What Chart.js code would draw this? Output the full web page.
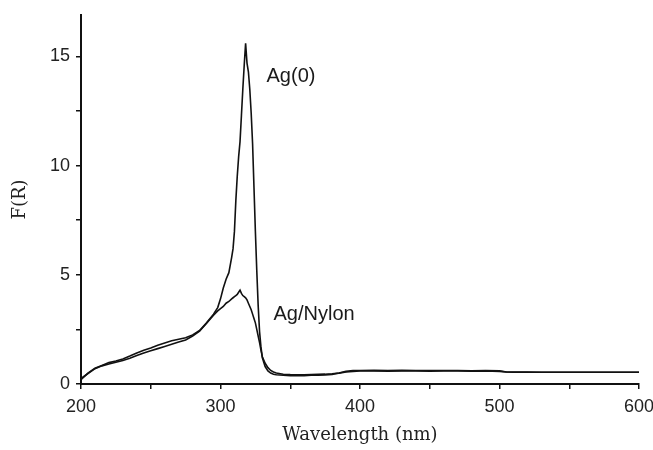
<!DOCTYPE html>
<html>
<head>
<meta charset="utf-8">
<script src="https://cdn.jsdelivr.net/npm/chart.js@4/dist/chart.umd.min.js"></script>
<style>
  html, body { margin: 0; padding: 0; background: #fff; }
  #wrap { width: 653px; height: 450px; }
</style>
</head>
<body>
<div id="wrap"><canvas id="myChart" width="653" height="450"></canvas></div>
<script>
// longitudes de onda (nm)
var wavelength = [200,205,210,215,220,225,230,235,240,245,250,255,260,265,270,275,280,285,290,295,
                  298,300,302,304,306,308,309,310,311,312,313,314,315,316,317,318,319,320,321,322,
                  323,324,325,326,327,328,329,330,332,334,336,338,340,345,350,355,360,365,370,375,
                  380,385,390,395,400,410,420,430,440,450,460,470,480,490,500,505,510,520,530,540,
                  550,560,570,580,590,600];

var ag0 = [0.2,0.5,0.72,0.85,0.98,1.05,1.15,1.28,1.42,1.55,1.65,1.78,1.88,1.98,2.05,2.12,2.25,2.45,2.8,3.2,
           3.5,3.9,4.4,4.8,5.1,5.8,6.2,7.0,8.4,9.5,10.4,11.1,12.3,13.5,14.6,15.6,14.7,14.3,13.5,12.4,
           11.0,9.0,7.0,5.2,3.6,2.4,1.7,1.2,0.8,0.6,0.5,0.45,0.42,0.4,0.38,0.38,0.38,0.4,0.4,0.42,
           0.44,0.5,0.58,0.62,0.62,0.63,0.62,0.63,0.62,0.62,0.62,0.62,0.61,0.62,0.6,0.55,0.55,0.55,0.54,0.54,
           0.54,0.54,0.54,0.54,0.54,0.54];

var agNylon = [0.25,0.48,0.7,0.83,0.92,1.0,1.08,1.18,1.3,1.42,1.52,1.62,1.72,1.82,1.92,2.02,2.2,2.42,2.78,3.15,
               3.35,3.45,3.55,3.7,3.78,3.9,3.95,4.0,4.05,4.1,4.2,4.3,4.15,4.05,4.0,3.95,3.85,3.7,3.55,3.4,
               3.2,3.0,2.8,2.5,2.2,1.9,1.55,1.25,0.95,0.75,0.62,0.55,0.5,0.45,0.43,0.42,0.42,0.43,0.44,0.45,
               0.47,0.5,0.55,0.58,0.6,0.6,0.59,0.6,0.6,0.59,0.6,0.6,0.59,0.6,0.58,0.55,0.54,0.54,0.54,0.54,
               0.54,0.54,0.54,0.54,0.54,0.54];

var xTickLabels = [200, 300, 400, 500, 600];
var yTickLabels = [0, 5, 10, 15];

// etiquetas de las curvas: [texto, x, y]
var curveLabels = [
    ['Ag(0)', 333, 14.1],
    ['Ag/Nylon', 338, 3.2]
];

function toPoints(xs, ys) {
    return xs.map(function (x, i) { return { x: x, y: ys[i] }; });
}

var labelPlugin = {
    id: 'curveLabels',
    afterDatasetsDraw: function (chart) {
        var ctx = chart.ctx;
        var sx = chart.scales.x, sy = chart.scales.y;
        ctx.save();
        ctx.font = '20px "Liberation Sans", Arial, sans-serif';
        ctx.fillStyle = '#1a1a1a';
        ctx.textBaseline = 'middle';
        ctx.textAlign = 'left';
        curveLabels.forEach(function (l) {
            ctx.fillText(l[0], sx.getPixelForValue(l[1]), sy.getPixelForValue(l[2]));
        });
        ctx.restore();
    }
};

var ctx = document.getElementById('myChart').getContext('2d');
var myChart = new Chart(ctx, {
    type: 'line',
    data: {
        datasets: [
            {
                label: 'Ag(0)',
                data: toPoints(wavelength, ag0),
                borderColor: '#111',
                borderWidth: 1.6,
                pointRadius: 0,
                fill: false
            },
            {
                label: 'Ag/Nylon',
                data: toPoints(wavelength, agNylon),
                borderColor: '#111',
                borderWidth: 1.6,
                pointRadius: 0,
                fill: false
            }
        ]
    },
    options: {
        responsive: false,
        animation: false,
        layout: { padding: { top: 15, right: 14, left: 0, bottom: 0 } },
        plugins: {
            legend: { display: false },
            tooltip: { enabled: false },
            title: { display: false }
        },
        scales: {
            x: {
                type: 'linear',
                min: 200,
                max: 600,
                afterFit: function (scale) {
                    scale.height = 66;
                    scale.paddingLeft = 0;
                    scale.paddingRight = 0;
                },
                ticks: {
                    stepSize: 50,
                    autoSkip: false,
                    maxRotation: 0,
                    padding: 7,
                    color: '#222',
                    font: { family: '"Liberation Sans", Arial, sans-serif', size: 18 },
                    callback: function (v) { return xTickLabels.indexOf(v) >= 0 ? String(v) : ''; }
                },
                grid: { drawOnChartArea: false, drawTicks: true, tickLength: 5, color: '#111', lineWidth: 1.5 },
                border: { display: true, color: '#111', width: 2 },
                title: {
                    display: true,
                    text: 'Wavelength (nm)',
                    color: '#222',
                    font: { family: '"DejaVu Serif", serif', size: 18 },
                    padding: { top: 0, bottom: 4 }
                }
            },
            y: {
                type: 'linear',
                min: 0,
                max: 16.9,
                afterFit: function (scale) {
                    scale.width = 81;
                    scale.paddingTop = 0;
                    scale.paddingBottom = 0;
                },
                afterBuildTicks: function (scale) {
                    scale.ticks = scale.ticks.filter(function (t) { return t.value % 2.5 === 0; });
                },
                ticks: {
                    stepSize: 2.5,
                    padding: 6,
                    color: '#222',
                    font: { family: '"Liberation Sans", Arial, sans-serif', size: 18 },
                    callback: function (v) { return yTickLabels.indexOf(v) >= 0 ? String(v) : ''; }
                },
                grid: { drawOnChartArea: false, drawTicks: true, tickLength: 5, color: '#111', lineWidth: 1.5 },
                border: { display: true, color: '#111', width: 2 },
                title: {
                    display: true,
                    text: 'F(R)',
                    color: '#222',
                    font: { family: '"DejaVu Serif", serif', size: 18 },
                    padding: { top: 10, bottom: 0 }
                }
            }
        }
    },
    plugins: [labelPlugin]
});
</script>
</body>
</html>
